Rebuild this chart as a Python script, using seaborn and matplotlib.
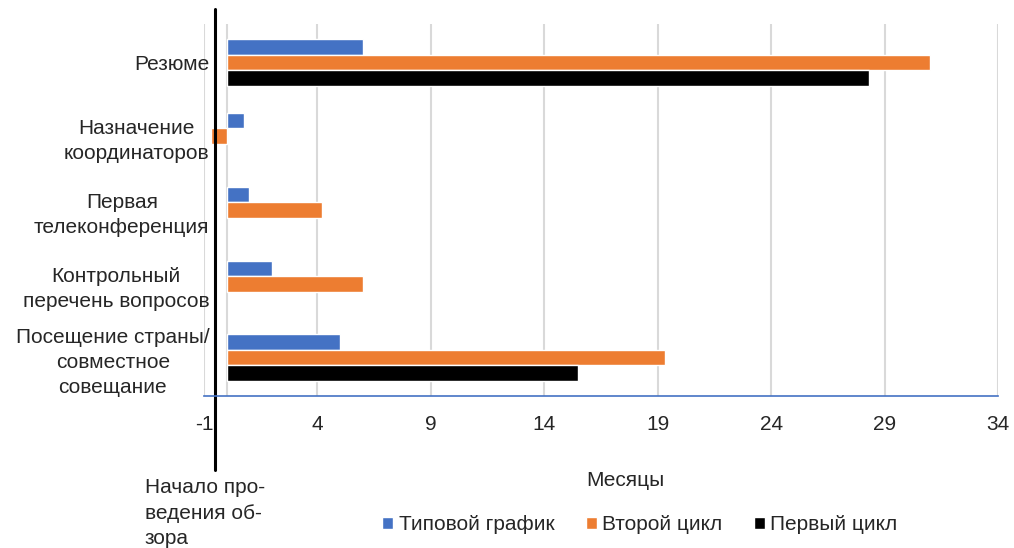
import matplotlib
matplotlib.use("Agg")
import matplotlib.pyplot as plt
import seaborn as sns
import pandas as pd

categories = ["Резюме", "Назначение\nкоординаторов", "Первая\nтелеконференция",
              "Контрольный\nперечень вопросов", "Посещение страны/\nсовместное\nсовещание"]
series = ["Типовой график", "Второй цикл", "Первый цикл"]
typical = [6, 0.75, 1, 2, 5]
second = [31, -0.7, 4.2, 6, 19.3]
first = [28.3, None, None, None, 15.5]
colors = ["#4472c4", "#ed7d31", "#000000"]
x_ticks = [-1, 4, 9, 14, 19, 24, 29, 34]

rows = []
for name, vals in zip(series, [typical, second, first]):
    for cat, v in zip(categories, vals):
        if v is not None:
            rows.append({"cat": cat, "series": name, "value": v})
df = pd.DataFrame(rows)

sns.set_theme(style="white")
plt.rcParams["font.family"] = ["Liberation Sans", "DejaVu Sans"]
fs = 15

fig = plt.figure(figsize=(10.14, 5.48), dpi=100)
ax = fig.add_axes([0.2012, 0.2774, 0.783, 0.6788])

sns.barplot(data=df, y="cat", x="value", hue="series", order=categories,
            hue_order=series, palette=colors, orient="h", width=0.63,
            saturation=1, ax=ax)

ax.set_xlim(-1, 34)
ax.set_ylim(4.52, -0.52)
ax.set_xticks(x_ticks)
ax.set_xticklabels([str(t) for t in x_ticks], fontsize=fs)
ax.tick_params(axis="y", labelsize=fs, length=0, pad=-4)
ax.tick_params(axis="x", length=0, pad=14)
for lab in ax.get_yticklabels():
    lab.set_multialignment("center")
    lab.set_linespacing(1.4)
ax.set_ylabel("")
ax.set_xlabel("")

ax.grid(axis="x", color="#d9d9d9", lw=1.5)
ax.axvline(0, color="#d9d9d9", lw=1.5, zorder=0)
ax.set_axisbelow(True)
for s in ["top", "right", "left"]:
    ax.spines[s].set_visible(False)
ax.spines["bottom"].set_color("#4472c4")
ax.spines["bottom"].set_linewidth(1.2)

# review start marker
ax.axvline(-0.5, ymin=-0.2, ymax=1.04, color="black", lw=2.2, clip_on=False)
fig.text(0.143, 0.0, "Начало про-\nведения об-\nзора", fontsize=fs,
         ha="left", va="bottom", linespacing=1.42)

fig.text(0.617, 0.124, "Месяцы", fontsize=fs, ha="center", va="center")

sns.move_legend(ax, "center", bbox_to_anchor=(0.631, 0.042),
                bbox_transform=fig.transFigure, ncol=3, frameon=False,
                title=None, fontsize=fs, handlelength=0.55, handleheight=0.55,
                handletextpad=0.25, columnspacing=1.5)

fig.savefig("out.png", dpi=100)
